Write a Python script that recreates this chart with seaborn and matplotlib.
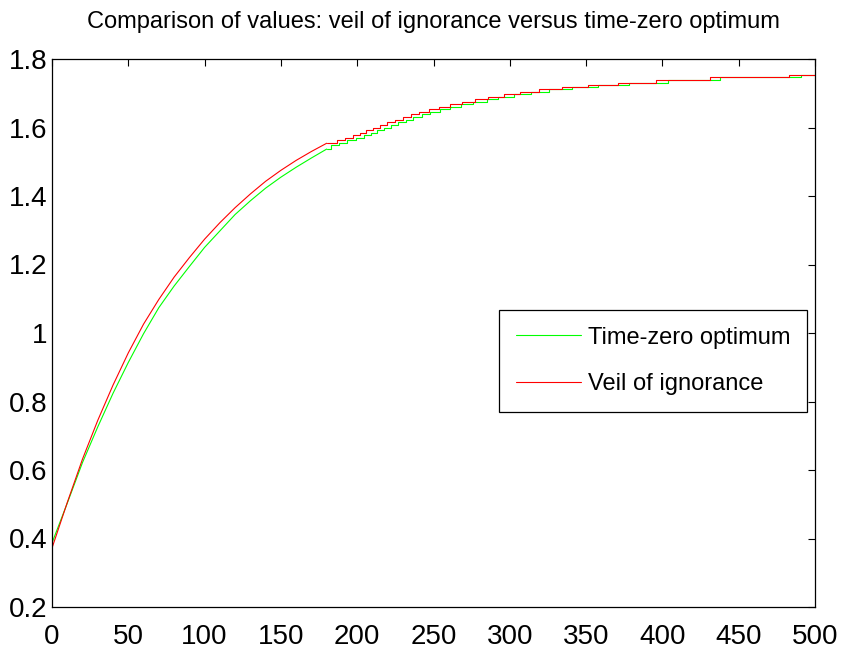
import matplotlib
matplotlib.use("Agg")
import matplotlib.pyplot as plt
from matplotlib.lines import Line2D
import numpy as np
import pandas as pd
import seaborn as sns

# ---------------- data ----------------
title = "Comparison of values: veil of ignorance versus time-zero optimum"
series_names = ["Time-zero optimum", "Veil of ignorance"]

# smooth-looking early part (x = 0 .. 180)
x_early = [0, 10, 20, 30, 40, 50, 60, 70, 80, 90, 100, 110, 120, 130, 140, 150, 160, 170, 180]
green_early = [0.387, 0.503, 0.622, 0.726, 0.824, 0.914, 0.998, 1.074, 1.137, 1.194, 1.250,
               1.298, 1.346, 1.386, 1.423, 1.455, 1.484, 1.511, 1.537]
red_early = [0.372, 0.505, 0.632, 0.745, 0.848, 0.942, 1.026, 1.098, 1.163, 1.220, 1.274,
             1.322, 1.366, 1.406, 1.443, 1.475, 1.504, 1.530, 1.554]

# staircase part (x where a new level starts, level value)
red_step_x = [180, 186.5, 192.0, 197.5, 201.8, 205.8, 210.6, 214.9, 219.7, 224.8, 229.8,
              235.3, 240.7, 247.1, 253.8, 260.8, 268.4, 277.0, 285.5, 296.0, 306.7,
              319.0, 334.0, 351.0, 371.0, 395.8, 431.0, 483.0, 500]
red_step_y = [1.554, 1.563, 1.570, 1.578, 1.585, 1.593, 1.600, 1.608, 1.615, 1.623, 1.630,
              1.638, 1.645, 1.653, 1.660, 1.668, 1.675, 1.683, 1.690, 1.698, 1.705,
              1.711, 1.717, 1.725, 1.731, 1.738, 1.747, 1.754, 1.754]

green_step_x = [180, 183.0, 188.0, 193.5, 199.0, 204.5, 208.8, 212.8, 217.6, 221.9, 226.7,
                231.8, 236.8, 242.3, 247.7, 254.1, 260.8, 268.0, 276.0, 284.8, 292.5,
                302.7, 313.7, 326.0, 340.5, 358.0, 378.0, 403.6, 437.7, 490.6, 500]
green_step_y = [1.537, 1.548, 1.555, 1.563, 1.570, 1.578, 1.585, 1.593, 1.600, 1.608, 1.615,
                1.623, 1.630, 1.638, 1.645, 1.653, 1.660, 1.668, 1.675, 1.683, 1.690,
                1.698, 1.705, 1.711, 1.717, 1.725, 1.731, 1.738, 1.747, 1.754, 1.754]

x_ticks = [0, 50, 100, 150, 200, 250, 300, 350, 400, 450, 500]
y_ticks = [0.2, 0.4, 0.6, 0.8, 1.0, 1.2, 1.4, 1.6, 1.8]
y_tick_labels = ["0.2", "0.4", "0.6", "0.8", "1", "1.2", "1.4", "1.6", "1.8"]

# ---------------- style ----------------
sns.set_style("white")
plt.rcParams["font.family"] = ["Liberation Sans Narrow", "Liberation Sans", "DejaVu Sans"]
plt.rcParams["text.color"] = "black"

GREEN = "#00ff00"
RED = "#ff0000"
LW = 0.8

fig = plt.figure(figsize=(8.42, 6.51), dpi=100)
ax = fig.add_axes([52 / 842, 44 / 651, 763 / 842, 548 / 651])

df_ge = pd.DataFrame({"x": x_early, "y": green_early})
df_re = pd.DataFrame({"x": x_early, "y": red_early})
df_gs = pd.DataFrame({"x": green_step_x, "y": green_step_y})
df_rs = pd.DataFrame({"x": red_step_x, "y": red_step_y})

sns.lineplot(data=df_ge, x="x", y="y", ax=ax, color=GREEN, lw=LW, sort=False, estimator=None)
sns.lineplot(data=df_gs, x="x", y="y", ax=ax, color=GREEN, lw=LW, sort=False, estimator=None,
             drawstyle="steps-post")
sns.lineplot(data=df_re, x="x", y="y", ax=ax, color=RED, lw=LW, sort=False, estimator=None)
sns.lineplot(data=df_rs, x="x", y="y", ax=ax, color=RED, lw=LW, sort=False, estimator=None,
             drawstyle="steps-post")

ax.set_xlim(0, 500)
ax.set_ylim(0.2, 1.8)
ax.set_xticks(x_ticks)
ax.set_xticklabels([str(t) for t in x_ticks])
ax.set_yticks(y_ticks)
ax.set_yticklabels(y_tick_labels)
ax.set_xlabel("")
ax.set_ylabel("")

for s in ax.spines.values():
    s.set_visible(True)
    s.set_color("black")
    s.set_linewidth(0.9)

ax.tick_params(axis="both", direction="in", length=5, width=0.8, colors="black",
               labelcolor="black", labelsize=20, top=True, right=True)
ax.tick_params(axis="x", pad=12)
ax.tick_params(axis="y", pad=3)

ax.set_title(title, fontsize=17, pad=22, color="black")

handles = [Line2D([0], [0], color=GREEN, lw=LW), Line2D([0], [0], color=RED, lw=LW)]
leg = ax.legend(handles, series_names, loc="upper left", bbox_to_anchor=(0.586, 0.542),
                prop={"size": 17}, frameon=True, fancybox=False, shadow=False, framealpha=1,
                edgecolor="black", borderpad=0.7, labelspacing=1.05, handlelength=2.75,
                handletextpad=0.3, borderaxespad=0)
leg.get_frame().set_linewidth(0.9)
for t in leg.get_texts():
    t.set_color("black")

fig.savefig("out.png", dpi=100, facecolor="white")
